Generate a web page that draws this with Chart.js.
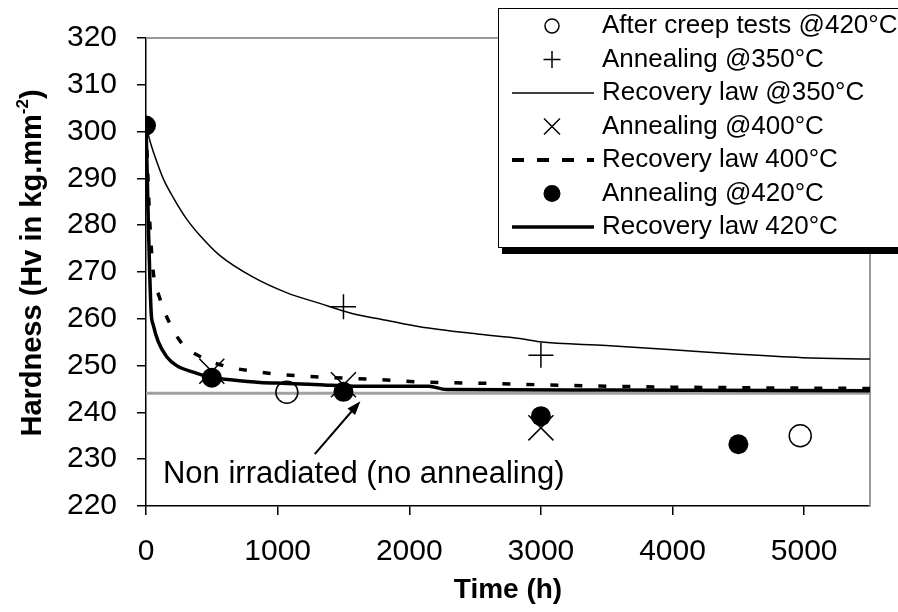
<!DOCTYPE html>
<html>
<head>
<meta charset="utf-8">
<script src="https://cdn.jsdelivr.net/npm/chart.js@4.4.0/dist/chart.umd.min.js"></script>
<style>
  html, body { margin: 0; padding: 0; background: #fff; }
  canvas { display: block; }
</style>
</head>
<body>
<canvas id="grafica" width="898" height="612"></canvas>
<script>
// Datos (tiempo en h, dureza Hv)
const ticksX = [0, 1000, 2000, 3000, 4000, 5000];
const ticksY = [220, 230, 240, 250, 260, 270, 280, 290, 300, 310, 320];

const tiempoFluencia = [1070, 4970];
const durezaFluencia = [244.3, 235.0];

const tiempo350 = [1500, 3000];
const dureza350 = [262.6, 252.2];

const tiempo400 = [500, 1500, 3000];
const dureza400 = [248.8, 245.9, 236.7];

const tiempo420 = [0, 500, 1500, 3000, 4500];
const dureza420 = [301.3, 247.4, 244.4, 239.2, 233.2];

// Leyes de recuperación
const leyTiempo350 = [0, 30, 70, 130, 207, 309, 410, 562, 814, 1067, 1320, 1573, 1826, 2079, 2534, 2838, 2989, 3495, 4001, 4507, 4987, 5500];
const leyDureza350 = [301.3, 298.0, 294.5, 290.0, 285.9, 281.3, 277.8, 273.5, 268.9, 265.6, 263.3, 261.1, 259.7, 258.3, 256.7, 255.8, 255.1, 254.3, 253.4, 252.4, 251.7, 251.4];

const leyTiempo400 = [0, 15, 30, 55, 101, 169, 271, 435, 612, 814, 992, 1168, 1345, 1700, 2100, 2600, 3000, 3500, 4000, 5500];
const leyDureza400 = [301.3, 290, 280, 270, 264.7, 259.7, 254.8, 251.6, 249.8, 248.8, 248.2, 247.8, 247.5, 247.1, 246.5, 246.2, 245.9, 245.6, 245.4, 245.1];

const leyTiempo420 = [0, 10, 20, 30, 40, 55, 93, 157, 233, 359, 491, 637, 865, 1067, 1320, 1573, 2150, 2280, 3500, 5500];
const leyDureza420 = [301.3, 290, 278, 268, 261, 258.7, 255.1, 251.9, 250.0, 248.6, 247.5, 247.0, 246.4, 246.2, 245.9, 245.6, 245.6, 244.9, 244.8, 244.6];

const tiempoNoIrradiado = [0, 5500];
const durezaNoIrradiado = [244.1, 244.1];

// Anotación (en unidades de datos)
const flechaDesde = { x: 1282, y: 231.1 };
const flechaHasta = { x: 1629, y: 242.4 };
const textoAnotacion = { x: 129, y: 226.7, texto: 'Non irradiated (no annealing)' };

const fuente = "'Liberation Sans', Arial, Helvetica, sans-serif";

function puntos(xs, ys) {
    return xs.map((x, i) => ({ x: x, y: ys[i] }));
}

// Marco gris superior y derecho del área de trazado
const pluginMarco = {
    id: 'marco',
    beforeDatasetsDraw(chart) {
        const { ctx, chartArea: a } = chart;
        ctx.save();
        ctx.strokeStyle = '#999999';
        ctx.lineWidth = 2;
        ctx.beginPath();
        ctx.moveTo(a.left, a.top);
        ctx.lineTo(a.right, a.top);
        ctx.lineTo(a.right, a.bottom);
        ctx.stroke();
        ctx.restore();
    }
};

// Flecha y texto "Non irradiated"
const pluginAnotacion = {
    id: 'anotacion',
    afterDatasetsDraw(chart) {
        const { ctx, scales: { x, y } } = chart;
        const x1 = x.getPixelForValue(flechaDesde.x), y1 = y.getPixelForValue(flechaDesde.y);
        const x2 = x.getPixelForValue(flechaHasta.x), y2 = y.getPixelForValue(flechaHasta.y);
        const ang = Math.atan2(y2 - y1, x2 - x1);
        ctx.save();
        ctx.strokeStyle = '#000';
        ctx.fillStyle = '#000';
        ctx.lineWidth = 2;
        ctx.beginPath();
        ctx.moveTo(x1, y1);
        ctx.lineTo(x2 - 10 * Math.cos(ang), y2 - 10 * Math.sin(ang));
        ctx.stroke();
        ctx.beginPath();
        ctx.moveTo(x2, y2);
        ctx.lineTo(x2 - 14 * Math.cos(ang) + 5 * Math.sin(ang), y2 - 14 * Math.sin(ang) - 5 * Math.cos(ang));
        ctx.lineTo(x2 - 14 * Math.cos(ang) - 5 * Math.sin(ang), y2 - 14 * Math.sin(ang) + 5 * Math.cos(ang));
        ctx.closePath();
        ctx.fill();
        ctx.font = '31px ' + fuente;
        ctx.textAlign = 'left';
        ctx.textBaseline = 'middle';
        ctx.fillText(textoAnotacion.texto, x.getPixelForValue(textoAnotacion.x), y.getPixelForValue(textoAnotacion.y));
        ctx.restore();
    }
};

// Título del eje Y con superíndice
const pluginTituloY = {
    id: 'tituloY',
    afterDraw(chart) {
        const { ctx } = chart;
        const base = 'Hardness (Hv in kg.mm';
        const sup = '-2';
        const fin = ')';
        ctx.save();
        ctx.translate(33, 263);
        ctx.rotate(-Math.PI / 2);
        ctx.fillStyle = '#000';
        ctx.textBaseline = 'middle';
        ctx.font = 'bold 29px ' + fuente;
        const w1 = ctx.measureText(base).width;
        const w3 = ctx.measureText(fin).width;
        ctx.font = 'bold 17px ' + fuente;
        const w2 = ctx.measureText(sup).width;
        let xx = -(w1 + w2 + w3) / 2;
        ctx.font = 'bold 29px ' + fuente;
        ctx.fillText(base, xx, 0);
        xx += w1;
        ctx.font = 'bold 17px ' + fuente;
        ctx.fillText(sup, xx, -10);
        xx += w2;
        ctx.font = 'bold 29px ' + fuente;
        ctx.fillText(fin, xx, 0);
        ctx.restore();
    }
};

// Leyenda con recuadro y sombra
const pluginLeyenda = {
    id: 'leyenda',
    afterDraw(chart) {
        const { ctx } = chart;
        const izq = 498, arriba = 8, abajo = 247;
        ctx.save();
        ctx.fillStyle = '#000';
        ctx.fillRect(502, abajo, 400, 7);
        ctx.fillStyle = '#fff';
        ctx.fillRect(izq, arriba, 420, abajo - arriba);
        ctx.strokeStyle = '#000';
        ctx.lineWidth = 1;
        ctx.strokeRect(izq + 0.5, arriba + 0.5, 420, abajo - arriba);

        const filas = [
            { texto: 'After creep tests @420°C', tipo: 'circuloAbierto' },
            { texto: 'Annealing @350°C', tipo: 'mas' },
            { texto: 'Recovery law @350°C', tipo: 'linea', ancho: 1.5, guion: [] },
            { texto: 'Annealing @400°C', tipo: 'equis' },
            { texto: 'Recovery law 400°C', tipo: 'linea', ancho: 4, guion: [12, 13] },
            { texto: 'Annealing @420°C', tipo: 'circuloLleno' },
            { texto: 'Recovery law 420°C', tipo: 'linea', ancho: 3.5, guion: [] }
        ];
        const cx = 552;
        filas.forEach((f, i) => {
            const cy = 26 + i * 33.5;
            ctx.strokeStyle = '#000';
            ctx.fillStyle = '#000';
            ctx.setLineDash([]);
            if (f.tipo === 'circuloAbierto') {
                ctx.lineWidth = 1.5;
                ctx.beginPath();
                ctx.arc(cx, cy, 7, 0, Math.PI * 2);
                ctx.stroke();
            } else if (f.tipo === 'circuloLleno') {
                ctx.beginPath();
                ctx.arc(cx, cy, 8.5, 0, Math.PI * 2);
                ctx.fill();
            } else if (f.tipo === 'mas') {
                ctx.lineWidth = 1.5;
                ctx.beginPath();
                ctx.moveTo(cx - 8.5, cy); ctx.lineTo(cx + 8.5, cy);
                ctx.moveTo(cx, cy - 8.5); ctx.lineTo(cx, cy + 8.5);
                ctx.stroke();
            } else if (f.tipo === 'equis') {
                ctx.lineWidth = 1.5;
                ctx.beginPath();
                ctx.moveTo(cx - 8, cy - 8); ctx.lineTo(cx + 8, cy + 8);
                ctx.moveTo(cx + 8, cy - 8); ctx.lineTo(cx - 8, cy + 8);
                ctx.stroke();
            } else {
                ctx.lineWidth = f.ancho;
                ctx.setLineDash(f.guion);
                ctx.beginPath();
                ctx.moveTo(512, cy); ctx.lineTo(594, cy);
                ctx.stroke();
                ctx.setLineDash([]);
            }
            ctx.font = '26px ' + fuente;
            ctx.textAlign = 'left';
            ctx.textBaseline = 'middle';
            ctx.fillText(f.texto, 602, cy);
        });
        ctx.restore();
    }
};

const estiloLinea = {
    showLine: true,
    pointRadius: 0,
    fill: false,
    borderColor: '#000',
    cubicInterpolationMode: 'monotone'
};

const config = {
    type: 'scatter',
    data: {
        datasets: [
            {
                label: 'After creep tests @420°C',
                data: puntos(tiempoFluencia, durezaFluencia),
                pointStyle: 'circle',
                pointRadius: 11,
                pointBorderWidth: 1.5,
                borderColor: '#000',
                backgroundColor: 'rgba(0,0,0,0)'
            },
            {
                label: 'Annealing @420°C',
                data: puntos(tiempo420, dureza420),
                pointStyle: 'circle',
                pointRadius: 10,
                pointBorderWidth: 0,
                borderColor: '#000',
                backgroundColor: '#000'
            },
            {
                label: 'Annealing @400°C',
                data: puntos(tiempo400, dureza400),
                pointStyle: 'crossRot',
                pointRadius: 17.7,
                pointBorderWidth: 1.5,
                borderColor: '#000',
                backgroundColor: '#000'
            },
            {
                label: 'Annealing @350°C',
                data: puntos(tiempo350, dureza350),
                pointStyle: 'cross',
                pointRadius: 12.5,
                pointBorderWidth: 1.5,
                borderColor: '#000',
                backgroundColor: '#000'
            },
            Object.assign({
                label: 'Recovery law 420°C',
                data: puntos(leyTiempo420, leyDureza420),
                borderWidth: 3.5
            }, estiloLinea),
            Object.assign({
                label: 'Recovery law 400°C',
                data: puntos(leyTiempo400, leyDureza400),
                borderWidth: 3.5,
                borderDash: [8, 16]
            }, estiloLinea),
            Object.assign({
                label: 'Recovery law @350°C',
                data: puntos(leyTiempo350, leyDureza350),
                borderWidth: 1.5
            }, estiloLinea),
            Object.assign({
                label: 'Non irradiated',
                data: puntos(tiempoNoIrradiado, durezaNoIrradiado),
                borderWidth: 3
            }, estiloLinea, { borderColor: '#a0a0a0', cubicInterpolationMode: 'default' })
        ]
    },
    options: {
        responsive: false,
        animation: false,
        devicePixelRatio: 1,
        layout: { padding: { top: 34, right: 28, left: 0, bottom: 0 } },
        plugins: {
            legend: { display: false },
            tooltip: { enabled: false }
        },
        scales: {
            x: {
                type: 'linear',
                min: 0,
                max: 5500,
                afterBuildTicks: (s) => { s.ticks = ticksX.map(v => ({ value: v })); },
                afterFit: (s) => { s.height = 106; },
                grid: { drawOnChartArea: false, drawTicks: true, tickLength: 9, color: '#000', lineWidth: 1.5 },
                border: { color: '#000', width: 1.5 },
                ticks: { color: '#000', font: { size: 30, family: fuente }, padding: 19, maxRotation: 0, callback: (v) => String(v) },
                title: { display: true, text: 'Time (h)', color: '#000', font: { size: 28, weight: 'bold', family: fuente }, padding: { top: 0, bottom: 5 } }
            },
            y: {
                min: 220,
                max: 320,
                afterBuildTicks: (s) => { s.ticks = ticksY.map(v => ({ value: v })); },
                afterFit: (s) => { s.width = 146; },
                grid: { drawOnChartArea: false, drawTicks: true, tickLength: 9, color: '#000', lineWidth: 1.5 },
                border: { color: '#000', width: 1.5 },
                ticks: { color: '#000', font: { size: 30, family: fuente }, padding: 20, callback: (v) => String(v) }
            }
        }
    },
    plugins: [pluginMarco, pluginAnotacion, pluginTituloY, pluginLeyenda]
};

const grafica = new Chart(document.getElementById('grafica'), config);
</script>
</body>
</html>
